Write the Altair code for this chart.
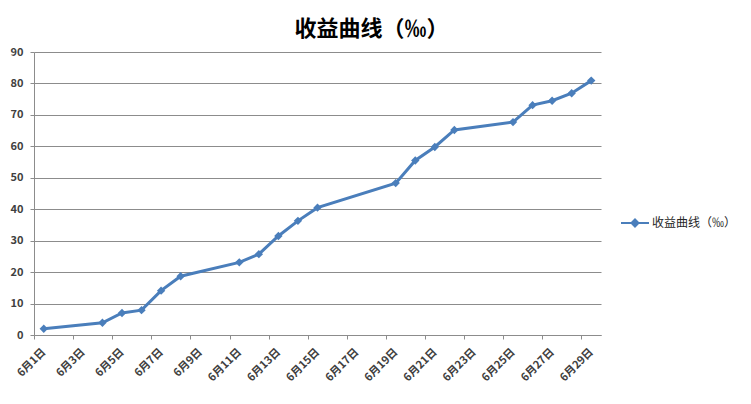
import altair as alt
import pandas as pd

# Data (June trading days)
days = [1, 4, 5, 6, 7, 8, 11, 12, 13, 14, 15, 19, 20, 21, 22, 25, 26, 27, 28, 29]
values = [2.0, 3.9, 7.0, 7.9, 14.1, 18.7, 23.1, 25.7, 31.5, 36.3, 40.5,
          48.3, 55.5, 59.8, 65.2, 67.7, 73.1, 74.5, 76.9, 80.9]
series_name = "收益曲线（‰）"
label_days = list(range(1, 30, 2))
y_ticks = list(range(0, 91, 10))

df = pd.DataFrame({"day": days, "value": values, "series": series_name})

W = 567
H = 283
half_day = W / 29 / 2
BLUE = "#4a7ebb"
FONT = "Noto Sans CJK SC"
GRAY = "#8c8c8c"

x_enc = alt.X(
    "day:Q",
    scale=alt.Scale(domain=[0.5, 29.5], nice=False, zero=False),
    axis=alt.Axis(
        values=label_days,
        labelExpr="'6月' + datum.value + '日'",
        labelAngle=-45,
        labelAlign="right",
        labelBaseline="middle",
        labelFont=FONT,
        labelFontSize=11,
        labelFontWeight="bold",
        labelColor="#404040",
        labelPadding=11,
        labelOverlap=False,
        tickOffset=-half_day,
        labelOffset=half_day,
        tickSize=4,
        tickColor=GRAY,
        domainColor=GRAY,
        grid=False,
        title=None,
    ),
)
y_enc = alt.Y(
    "value:Q",
    scale=alt.Scale(domain=[0, 90], nice=False),
    axis=alt.Axis(
        values=y_ticks,
        tickCount=10,
        labelOverlap=False,
        tickSize=4,
        tickColor=GRAY,
        labelFont=FONT,
        labelFontSize=11,
        labelFontWeight="bold",
        labelColor="#404040",
        labelPadding=7,
        domainColor=GRAY,
        gridColor=GRAY,
        gridWidth=1,
        title=None,
    ),
)
color_enc = alt.Color(
    "series:N",
    scale=alt.Scale(range=[BLUE]),
    legend=alt.Legend(
        title=None,
        orient="none",
        legendX=586,
        legendY=156,
        symbolType="M-1,0H1M-0.25,0L0,-0.25L0.25,0L0,0.25Z",
        symbolSize=784,
        symbolStrokeWidth=2,
        symbolFillColor=BLUE,
        symbolStrokeColor=BLUE,
        labelFont=FONT,
        labelFontSize=12,
        labelColor="#262626",
        labelOffset=2,
    ),
)

line = alt.Chart(df).mark_line(strokeWidth=3, color=BLUE).encode(
    x=x_enc, y=y_enc, color=color_enc
)
pts = alt.Chart(df).mark_point(
    shape="diamond", filled=True, size=70, opacity=1, color=BLUE
).encode(x=x_enc, y=y_enc, color=alt.Color("series:N", legend=None))

chart = (
    alt.layer(line, pts)
    .properties(
        width=W,
        height=H,
        autosize=alt.AutoSizeParams(type="pad"),
        padding={"left": 2, "top": 10, "right": 5, "bottom": 5},
        title=alt.TitleParams(
            text=series_name,
            font=FONT,
            fontSize=22,
            fontWeight="bold",
            color="#000000",
            anchor="middle",
            dx=54,
            offset=5,
        ),
        background="white",
    )
    .configure_view(stroke=None)
)

chart.save("out.html", embed_options={"renderer": "svg", "actions": False})
